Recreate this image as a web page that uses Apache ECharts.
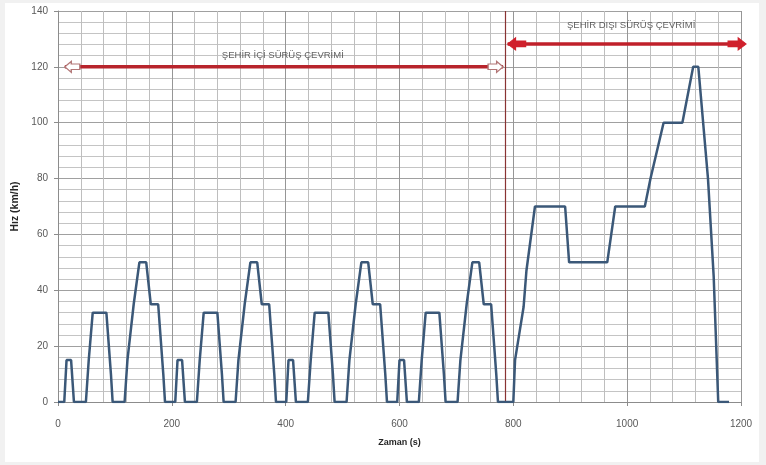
<!DOCTYPE html>
<html>
<head>
<meta charset="utf-8">
<script src="https://cdn.jsdelivr.net/npm/echarts@6/dist/echarts.min.js"></script>
<style>
html,body{margin:0;padding:0;background:#f1f1f1;}
#frame{position:absolute;left:5px;top:3px;width:754px;height:459px;background:#fff;}
#chart{position:absolute;left:-5px;top:-3px;width:766px;height:465px;}
</style>
</head>
<body>
<div id="frame"><div id="chart"></div></div>
<script>
// NEDC driving cycle: time (s) and speed (km/h)
const timeS = [
  0, 11, 15, 23, 28, 49, 54, 56, 61, 85, 93, 96, 117, 122, 124, 133, 135, 143, 155, 163, 176, 178, 185, 188,
  195, 206, 210, 218, 223, 244, 249, 251, 256, 280, 288, 291, 312, 317, 319, 328, 330, 338, 350, 358, 371, 373, 380, 383,
  390, 401, 405, 413, 418, 439, 444, 446, 451, 475, 483, 486, 507, 512, 514, 523, 525, 533, 545, 553, 566, 568, 575, 578,
  585, 596, 600, 608, 613, 634, 639, 641, 646, 670, 678, 681, 702, 707, 709, 718, 720, 728, 740, 748, 761, 763, 770, 773,
  780, 800, 803, 818, 823, 838, 891, 898, 965, 979, 1031, 1041, 1064, 1097, 1116, 1125, 1142, 1152, 1160, 1179
];
const speedKmh = [
  0, 0, 15, 15, 0, 0, 15, 15, 32, 32, 10, 0, 0, 15, 15, 35, 35, 50, 50, 35, 35, 35, 10, 0,
  0, 0, 15, 15, 0, 0, 15, 15, 32, 32, 10, 0, 0, 15, 15, 35, 35, 50, 50, 35, 35, 35, 10, 0,
  0, 0, 15, 15, 0, 0, 15, 15, 32, 32, 10, 0, 0, 15, 15, 35, 35, 50, 50, 35, 35, 35, 10, 0,
  0, 0, 15, 15, 0, 0, 15, 15, 32, 32, 10, 0, 0, 15, 15, 35, 35, 50, 50, 35, 35, 35, 10, 0,
  0, 0, 15, 34, 47, 70, 70, 50, 50, 70, 70, 80, 100, 100, 120, 120, 80, 45, 0, 0
];
// annotations
const cityLabel = 'ŞEHİR İÇİ SÜRÜŞ ÇEVRİMİ';
const extraLabel = 'ŞEHİR DIŞI SÜRÜŞ ÇEVRİMİ';
const cityArrowT = [12, 782];
const cityArrowV = 120;
const extraArrowT = [790, 1209];
const extraArrowV = 128.2;
const cityLabelPos = [395, 124];
const extraLabelPos = [1007, 135];
const boundaryT = 785;
const xTitle = 'Zaman (s)';
const yTitle = 'Hız (km/h)';

const FONT = '"Liberation Sans", Arial, sans-serif';
const lineData = timeS.map((t, i) => [t, speedKmh[i]]);

const leftBlock = 'path://M14,3L6,3L6,0L0,6L6,12L6,9L14,9Z';
const rightBlock = 'path://M0,3L8,3L8,0L14,6L8,12L8,9L0,9Z';
const leftHead = 'path://M16,3L7,3L7,0L0,6L7,12L7,9L16,9Z';
const rightHead = 'path://M0,3L9,3L9,0L16,6L9,12L9,9L0,9Z';
const hollow = {color: '#fff', borderColor: '#b27676', borderWidth: 1.2};
const solid = {color: '#d0202c', borderColor: '#d0202c'};

const chart = echarts.init(document.getElementById('chart'), null, {renderer: 'canvas'});
const option = {
  animation: false,
  backgroundColor: 'transparent',
  grid: {left: 58, right: 25, top: 11, bottom: 63},
  xAxis: {
    type: 'value', min: 0, max: 1200, interval: 200,
    name: xTitle, nameLocation: 'middle', nameGap: 36,
    nameTextStyle: {fontFamily: FONT, fontSize: 9, fontWeight: 'bold', color: '#262626'},
    axisLine: {show: true, lineStyle: {color: '#8c8c8c', width: 1}},
    axisTick: {show: true, length: 4, lineStyle: {color: '#8c8c8c'}},
    axisLabel: {fontFamily: FONT, fontSize: 10, color: '#595959', margin: 17, formatter: v => String(v)},
    splitLine: {show: true, lineStyle: {color: '#969696', width: 1}},
    minorTick: {show: false, splitNumber: 5},
    minorSplitLine: {show: true, lineStyle: {color: '#bebebe', width: 1}}
  },
  yAxis: {
    type: 'value', min: 0, max: 140, interval: 20,
    name: yTitle, nameLocation: 'middle', nameGap: 27, nameRotate: 90,
    nameTextStyle: {fontFamily: FONT, fontSize: 10.5, fontWeight: 'bold', color: '#262626'},
    axisLine: {show: true, lineStyle: {color: '#8c8c8c', width: 1}},
    axisTick: {show: true, length: 4, lineStyle: {color: '#8c8c8c'}},
    axisLabel: {fontFamily: FONT, fontSize: 10, color: '#595959', margin: 10},
    splitLine: {show: true, lineStyle: {color: '#a0a0a0', width: 1}},
    minorTick: {show: false, splitNumber: 5},
    minorSplitLine: {show: true, lineStyle: {color: '#c4c4c4', width: 1}}
  },
  series: [
    {
      name: 'speed', type: 'line', data: lineData, showSymbol: false, symbol: 'none',
      lineStyle: {color: '#3b5878', width: 2.5}, z: 5,
      markLine: {
        silent: true, symbol: 'none', label: {show: false},
        lineStyle: {color: '#8a3333', width: 1.2, type: 'solid'},
        data: [{xAxis: boundaryT}]
      }
    },
    {
      name: 'city', type: 'line', clip: false, z: 6,
      lineStyle: {color: '#b8242c', width: 3.5},
      symbolSize: [15, 11],
      data: [
        {value: [cityArrowT[0], cityArrowV], symbol: leftBlock, symbolOffset: [7.5, 0], itemStyle: hollow},
        {value: [cityArrowT[1], cityArrowV], symbol: rightBlock, symbolOffset: [-7.5, 0], itemStyle: hollow}
      ]
    },
    {
      name: 'extra', type: 'line', clip: false, z: 6,
      lineStyle: {color: '#c0202a', width: 3.5},
      symbolSize: [18, 12],
      data: [
        {value: [extraArrowT[0], extraArrowV], symbol: leftHead, symbolOffset: [9, 0], itemStyle: solid},
        {value: [extraArrowT[1], extraArrowV], symbol: rightHead, symbolOffset: [-9, 0], itemStyle: solid}
      ]
    },
    {
      name: 'labels', type: 'scatter', symbolSize: 0, z: 7, silent: true,
      data: [
        {value: cityLabelPos, label: {formatter: cityLabel}},
        {value: extraLabelPos, label: {formatter: extraLabel}}
      ],
      label: {show: true, position: 'inside', fontFamily: FONT, fontSize: 9.5, color: '#3a3a3a'}
    }
  ]
};
chart.setOption(option);
</script>
</body>
</html>
